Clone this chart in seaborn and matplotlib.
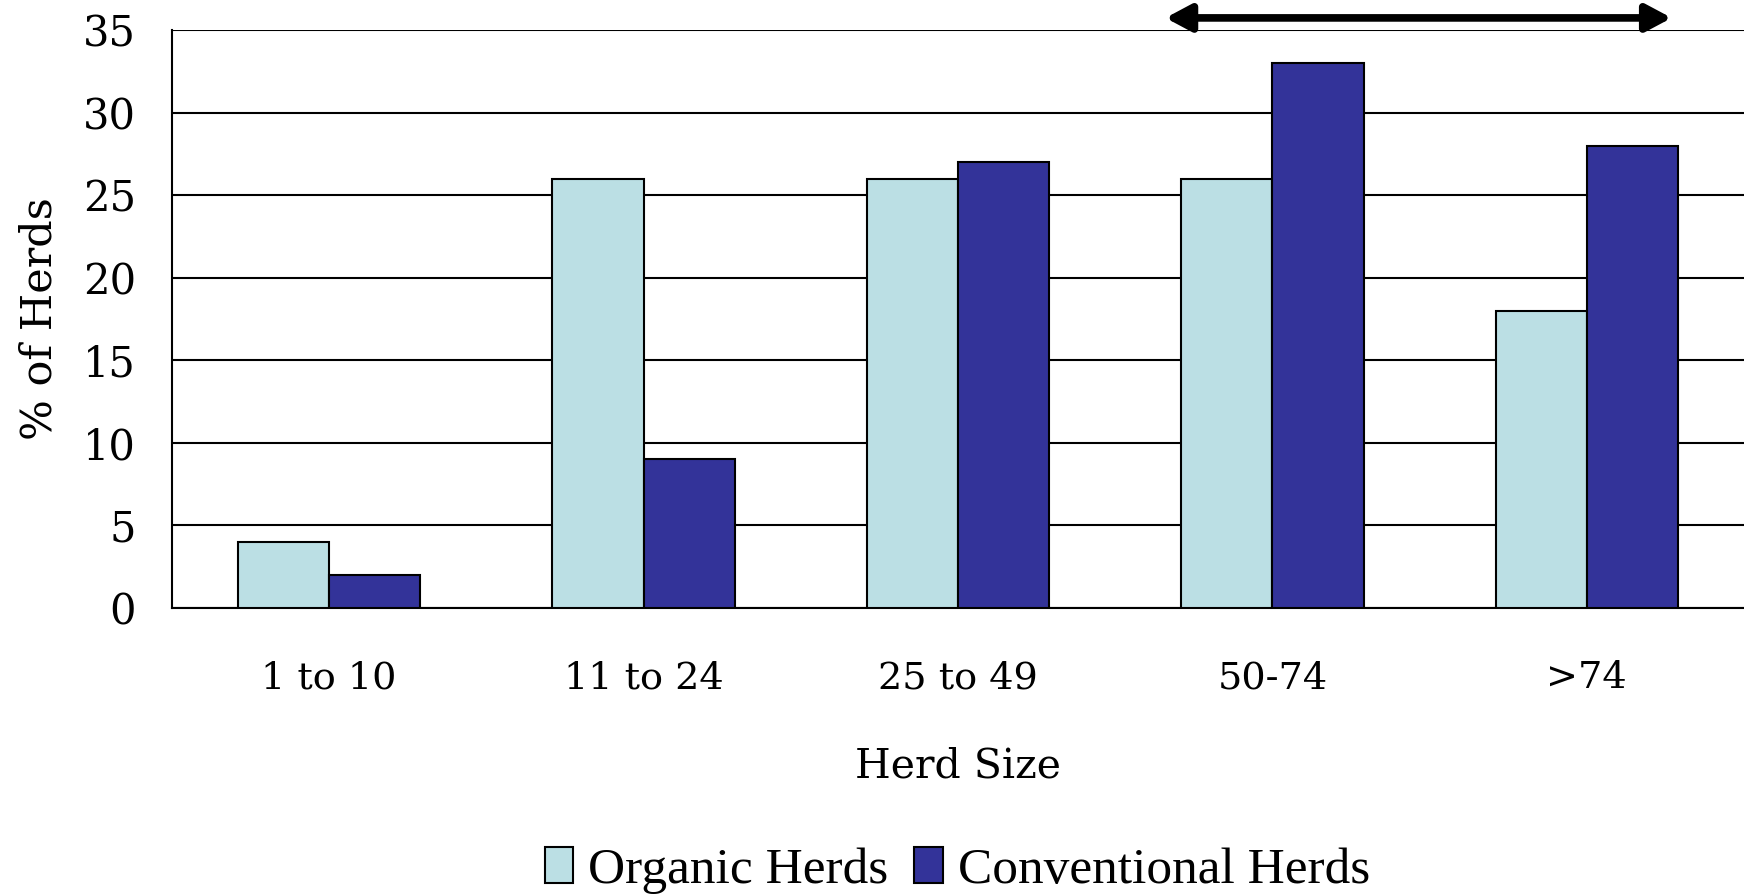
import pandas as pd
import matplotlib
matplotlib.use("Agg")
import matplotlib.pyplot as plt
import seaborn as sns

# data
herd_sizes = ["1 to 10", "11 to 24", "25 to 49", "50-74", ">74"]
organic = [4, 26, 26, 26, 18]
conventional = [2, 9, 27, 33, 28]
series_names = ["Organic Herds", "Conventional Herds"]
y_ticks = [0, 5, 10, 15, 20, 25, 30, 35]

df = pd.DataFrame({
    "size": herd_sizes * 2,
    "pct": organic + conventional,
    "type": [series_names[0]] * len(herd_sizes) + [series_names[1]] * len(herd_sizes),
})

sns.set_style("white")
plt.rcParams["font.family"] = ["DejaVu Serif", "DejaVu Sans"]
plt.rcParams["text.color"] = "black"
plt.rcParams["axes.labelcolor"] = "black"
plt.rcParams["xtick.color"] = "black"
plt.rcParams["ytick.color"] = "black"

fig = plt.figure(figsize=(17.44, 8.96), dpi=100)
ax = fig.add_axes([0.0986, 0.3218, 0.9014, 0.6444])

sns.barplot(data=df, x="size", y="pct", hue="type", order=herd_sizes,
            hue_order=series_names, palette=["#BBDFE4", "#333399"],
            saturation=1, edgecolor="black", linewidth=1.5, width=0.58, gap=0,
            ax=ax, zorder=3)

ax.set_ylim(0, 35)
ax.set_xlim(-0.5, len(herd_sizes) - 0.5)
ax.set_yticks(y_ticks)
for v in y_ticks:
    ax.axhline(v, color="black", lw=1.5, zorder=1)

# group separators as major ticks, labels on minor ticks
ax.set_xticks([i - 0.5 for i in range(len(herd_sizes) + 1)])
ax.set_xticklabels([])
ax.set_xticks(range(len(herd_sizes)), minor=True)
ax.set_xticklabels(herd_sizes, minor=True)
ax.tick_params(axis="x", which="major", direction="out", length=10, width=1.5)
ax.tick_params(axis="x", which="minor", length=0, pad=38, labelsize=27.5)
ax.tick_params(axis="y", direction="out", length=10, width=1.5, labelsize=30, pad=16)

for side in ["top", "right"]:
    ax.spines[side].set_visible(False)
for side in ["left", "bottom"]:
    ax.spines[side].set_color("black")
    ax.spines[side].set_linewidth(1.5)

ax.set_xlabel("Herd Size", fontsize=29.5, labelpad=36)
ax.set_ylabel("% of Herds", fontsize=31, labelpad=16)

# double-headed arrow above the plot
ax.annotate("", xy=(4.27, 35.75), xytext=(2.66, 35.75), xycoords="data",
            annotation_clip=False,
            arrowprops=dict(arrowstyle="<|-|>,head_length=1.5,head_width=0.8",
                            mutation_scale=10, lw=5.5, color="black",
                            shrinkA=0, shrinkB=0))

handles, labels = ax.get_legend_handles_labels()
ax.legend_.remove()
fig.legend(handles, labels, loc="center", bbox_to_anchor=(0.549, 0.029), ncol=2,
           frameon=False, handlelength=0.55, handleheight=0.7, handletextpad=0.3,
           columnspacing=0.5, prop={"family": "Liberation Serif", "size": 37})

fig.savefig("out.png", dpi=100)
